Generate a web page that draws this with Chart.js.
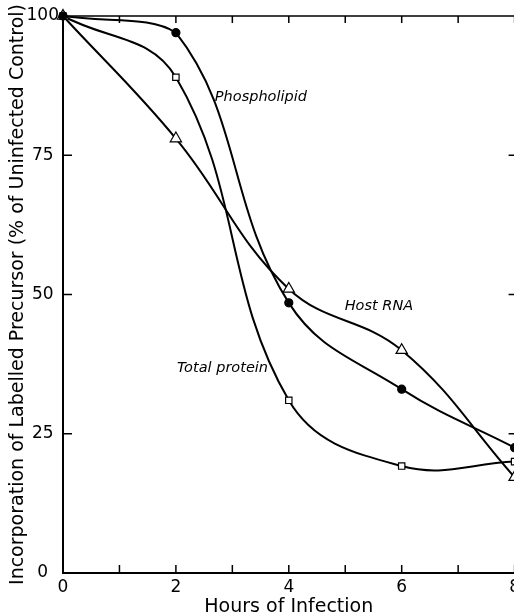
<!DOCTYPE html>
<html>
<head>
<meta charset="utf-8">
<script src="https://cdn.jsdelivr.net/npm/chart.js@4"></script>
<style>
  html, body { margin: 0; padding: 0; background: #fff; overflow: hidden; }
  #wrap { width: 514px; height: 616px; position: relative; overflow: hidden; }
</style>
</head>
<body>
<div id="wrap"><canvas id="myChart" width="524" height="616"></canvas></div>
<script>
// data
const hours = [0, 2, 4, 6, 8];
const phospholipid = [100, 97, 48.5, 33, 22.5];
const hostRNA = [100, 78, 51, 40, 17.2];
const totalProtein = [100, 89, 31, 19.2, 20];
const yTickValues = [0, 25, 50, 75, 100];
const curveLabels = [
    { text: 'Phospholipid', x: 2.69, y: 85.5 },
    { text: 'Host RNA', x: 4.99, y: 47.9 },
    { text: 'Total protein', x: 2.02, y: 36.7 }
];

const FONT = "'DejaVu Sans', sans-serif";

function toPoints(values) {
    return hours.map((h, i) => ({ x: h, y: values[i] }));
}

// inward tick marks on all four sides plus the top border
const frameTicks = {
    id: 'frameTicks',
    afterDraw(chart) {
        const { ctx, chartArea: a, scales: { x, y } } = chart;
        ctx.save();
        ctx.strokeStyle = '#000';
        ctx.lineWidth = 1.5;
        ctx.beginPath();
        ctx.moveTo(a.left, a.top);
        ctx.lineTo(a.right + 2, a.top);
        for (let h = 0; h <= 8; h++) {
            const px = x.getPixelForValue(h);
            ctx.moveTo(px, a.bottom);
            ctx.lineTo(px, a.bottom - 8);
            if (h > 0) {
                ctx.moveTo(px, a.top);
                ctx.lineTo(px, a.top + 7);
            }
        }
        yTickValues.forEach(v => {
            const py = y.getPixelForValue(v);
            ctx.moveTo(a.left, py);
            ctx.lineTo(a.left + 9, py);
            ctx.moveTo(a.right, py);
            ctx.lineTo(a.right - 6, py);
        });
        ctx.stroke();
        ctx.restore();
    }
};

const curveText = {
    id: 'curveText',
    afterDatasetsDraw(chart) {
        const { ctx, scales: { x, y } } = chart;
        ctx.save();
        ctx.fillStyle = '#000';
        ctx.font = "italic 14.5px " + FONT;
        ctx.textAlign = 'left';
        ctx.textBaseline = 'middle';
        curveLabels.forEach(l => {
            ctx.fillText(l.text, x.getPixelForValue(l.x), y.getPixelForValue(l.y));
        });
        ctx.restore();
    }
};

const lineBase = {
    borderColor: '#000',
    borderWidth: 2,
    tension: 0.4,
    pointBorderColor: '#000',
    pointBorderWidth: 1.2,
    clip: false
};

const ctx = document.getElementById('myChart').getContext('2d');

new Chart(ctx, {
    type: 'line',
    data: {
        datasets: [
            Object.assign({}, lineBase, {
                label: 'Phospholipid',
                data: toPoints(phospholipid),
                pointStyle: 'circle',
                pointRadius: 4,
                pointBackgroundColor: '#000'
            }),
            Object.assign({}, lineBase, {
                label: 'Host RNA',
                data: toPoints(hostRNA),
                pointStyle: 'triangle',
                pointRadius: 6.5,
                pointBackgroundColor: '#fff'
            }),
            Object.assign({}, lineBase, {
                label: 'Total protein',
                data: toPoints(totalProtein),
                pointStyle: 'rect',
                pointRadius: 4.5,
                pointBackgroundColor: '#fff'
            })
        ]
    },
    options: {
        responsive: false,
        animation: false,
        layout: { padding: { top: 16, right: 0, left: 0, bottom: 0 } },
        plugins: {
            legend: { display: false },
            tooltip: { enabled: false }
        },
        scales: {
            x: {
                type: 'linear',
                min: 0,
                max: 8,
                border: { display: true, color: '#000', width: 2 },
                grid: { display: false, drawTicks: false },
                ticks: {
                    stepSize: 1,
                    color: '#000',
                    padding: 4,
                    maxRotation: 0,
                    font: { family: FONT, size: 17 },
                    callback: v => (v % 2 === 0 ? v : '')
                },
                title: {
                    display: true,
                    text: 'Hours of Infection',
                    color: '#000',
                    padding: { top: 0, bottom: -2 },
                    font: { family: FONT, size: 19 }
                },
                afterFit(scale) {
                    scale.height = 43;
                }
            },
            y: {
                min: 0,
                max: 100,
                border: { display: true, color: '#000', width: 2 },
                grid: { display: false, drawTicks: false },
                ticks: {
                    stepSize: 25,
                    color: '#000',
                    padding: 4,
                    crossAlign: 'center',
                    font: { family: FONT, size: 17 }
                },
                title: {
                    display: true,
                    text: 'Incorporation of Labelled Precursor (% of Uninfected Control)',
                    color: '#000',
                    padding: { top: 7, bottom: 0 },
                    font: { family: FONT, size: 19 }
                },
                afterFit(scale) {
                    scale.width = 63;
                }
            }
        }
    },
    plugins: [frameTicks, curveText]
});
</script>
</body>
</html>
